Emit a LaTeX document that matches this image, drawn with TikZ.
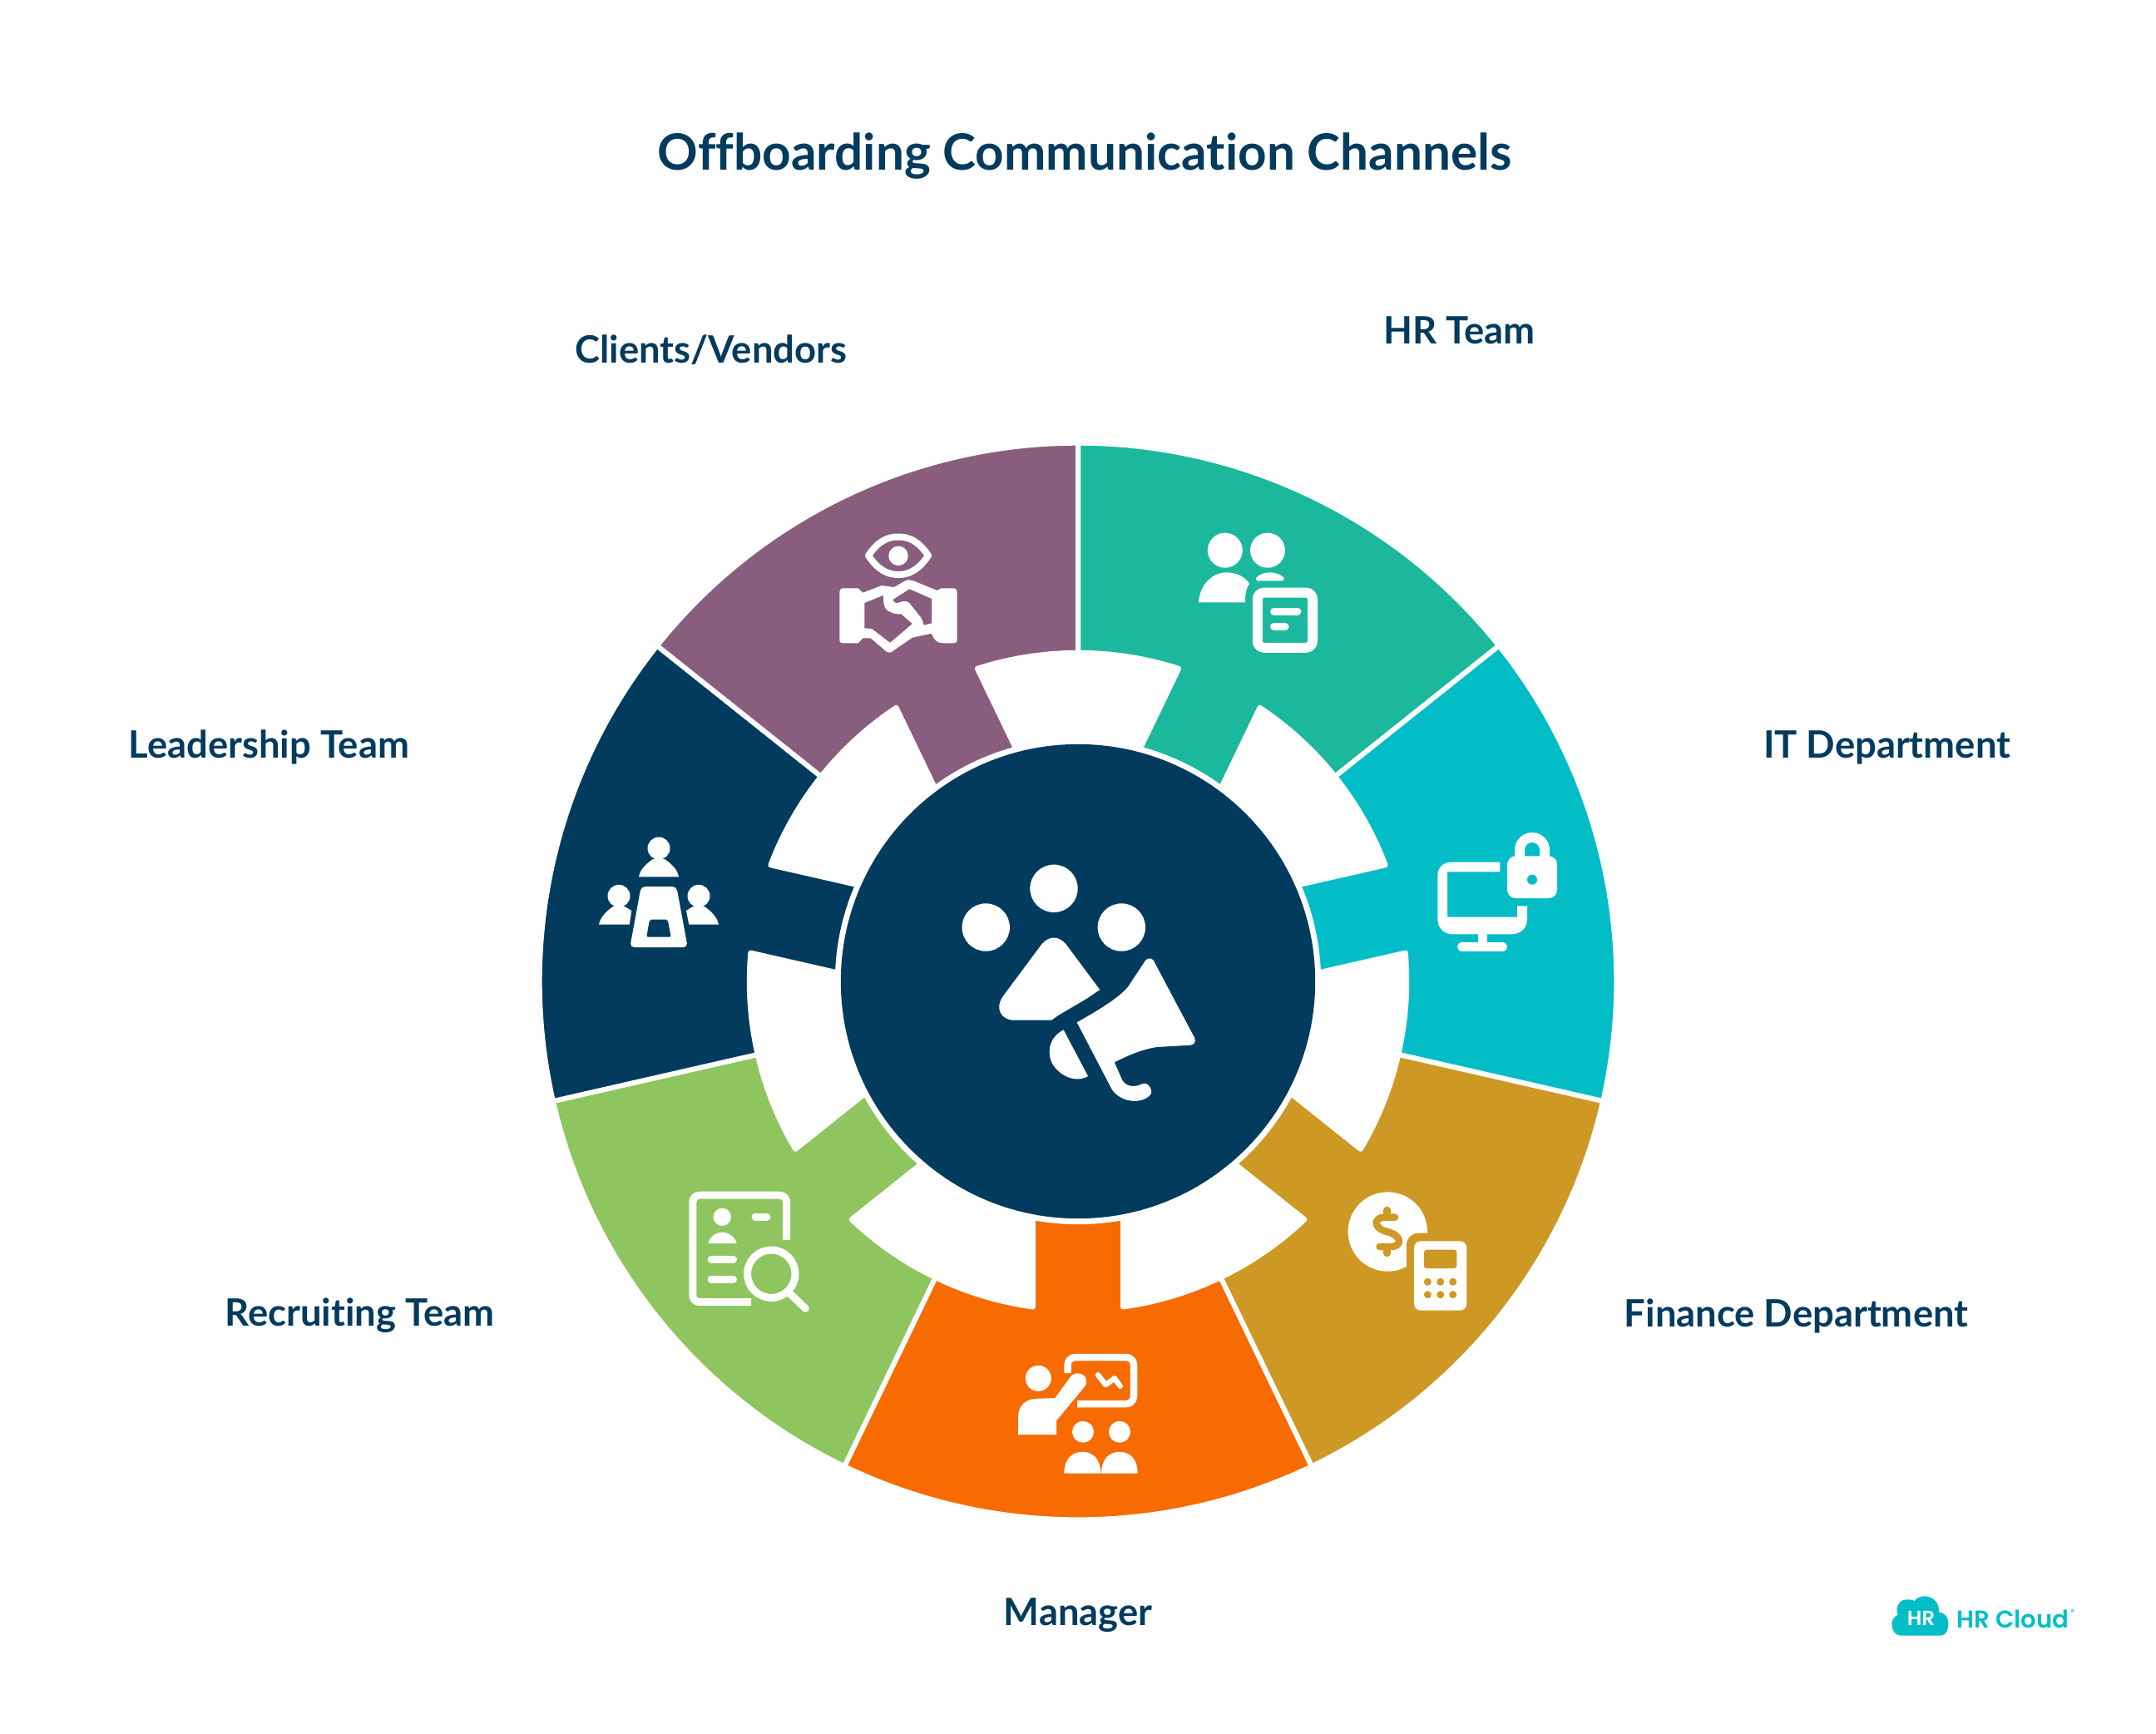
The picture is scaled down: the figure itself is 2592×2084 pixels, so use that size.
\documentclass[tikz,border=0pt]{standalone}
\usepackage{xcolor}
\usepackage{fontspec}
\setmainfont{Lato}[Ligatures=NoCommon]
\newfontfamily\logofont{Poppins SemiBold}
\usepackage{tikz}
\usetikzlibrary{positioning}
\definecolor{navy}{HTML}{023B5E}
\definecolor{hrteal}{HTML}{1CB89E}
\definecolor{itcyan}{HTML}{02BDC6}
\definecolor{financegold}{HTML}{CE9824}
\definecolor{managerorange}{HTML}{F76B00}
\definecolor{recruitgreen}{HTML}{8EC55E}
\definecolor{clientpurple}{HTML}{895D7E}
\definecolor{cloudcyan}{HTML}{00BFC7}
\newcommand{\wedgeblock}[2]{
	\filldraw[wedge,fill=#2,shift={(1296,1180)},rotate=#1]
		(25.714:6.47cm) arc[start angle=25.714,end angle=-25.714,radius=6.47cm]
		-- (-25.714:3.95cm) arc[start angle=-25.714,end angle=-7.858,radius=3.95cm]
		-- (-10.77:2.89cm) arc[start angle=-10.77,end angle=10.77,radius=2.89cm]
		-- (7.858:3.95cm) arc[start angle=7.858,end angle=25.714,radius=3.95cm] -- cycle;
}
\begin{document}
\begin{tikzpicture}[x=0.01cm,y=-0.01cm,on grid,
	every node/.style={inner sep=0,outer sep=0},
	wedge/.style={draw=white,line width=0.06cm,line join=round},
	channel/.style={text=navy,font=\fontsize{12.9}{15}\selectfont\bfseries},
	solid icon/.style={fill=white},
	line icon/.style={draw=white,line width=0.09cm,line cap=round,line join=round}]
	\useasboundingbox (0,0) rectangle (2592,2084);
	\wedgeblock{64.286}{hrteal}
	\wedgeblock{12.857}{itcyan}
	\wedgeblock{-38.571}{financegold}
	\wedgeblock{-90}{managerorange}
	\wedgeblock{-141.429}{recruitgreen}
	\wedgeblock{-192.857}{navy}
	\wedgeblock{115.714}{clientpurple}
	\node (hub) at (1296,1180) [circle,fill=navy,minimum size=5.7cm] {};
	\node (title) [above right=9.92cm and 0.08cm of hub,text=navy,font=\fontsize{17.13}{20}\selectfont\bfseries] {Offboarding Communication Channels};
	\node (hr) [above right=7.82cm and 4.58cm of hub,channel] {HR Team};
	\node (clients) [above left=7.59cm and 4.41cm of hub,channel] {Clients/Vendors};
	\node (it) [above right=2.81cm and 9.72cm of hub,channel] {IT Department};
	\node (leadership) [above left=2.81cm and 9.72cm of hub,channel] {Leadership Team};
	\node (finance) [below right=4.02cm and 8.63cm of hub,channel] {Finance Department};
	\node (recruiting) [below left=4.02cm and 8.63cm of hub,channel] {Recruiting Team};
	\node (manager) [below=7.62cm of hub,channel] {Manager};
	\fill[solid icon] (1267,1068.3) circle[radius=28.7] (1185.2,1115) circle[radius=28.7] (1348.3,1115) circle[radius=28.7];
	\fill[solid icon] (1252.6,1135) .. controls (1262,1125) and (1272,1125) .. (1281.3,1135) -- (1322.2,1190) -- (1306,1201) -- (1272,1221) -- (1264,1226.7) -- (1220,1226.7) .. controls (1203,1226.7) and (1195,1212) .. (1206.7,1196.7) -- cycle;
	\fill[solid icon] (1377,1155) .. controls (1380,1151) and (1386,1151) .. (1388.4,1158) -- (1436.3,1248.3) .. controls (1438,1253) and (1435,1256.7) .. (1430.5,1256.7) -- (1390.4,1259) .. controls (1372,1262) and (1356,1269) .. (1339.8,1277.3) -- (1348.3,1296.7) .. controls (1351,1305) and (1362,1309) .. (1373,1303.3) .. controls (1381,1300) and (1387,1312) .. (1382.7,1316.7) .. controls (1372,1328) and (1348,1326) .. (1336.8,1310) -- (1294.7,1229.3) .. controls (1320,1215) and (1345,1200) .. (1356,1186.7) -- cycle;
	\fill[solid icon] (1278.6,1238.3) -- (1308,1294) .. controls (1290,1304) and (1270,1290) .. (1264,1276.7) .. controls (1258,1260) and (1264,1246) .. (1278.6,1238.3) -- cycle;
	\fill[solid icon] (1472.8,661.7) circle[radius=21] (1524,661.7) circle[radius=21];
	\fill[solid icon] (1441,724.3) .. controls (1442,705) and (1456,688.3) .. (1474.5,688.3) .. controls (1487,688.3) and (1497,694) .. (1502,701.7) .. controls (1498,708) and (1497,714) .. (1497,724.3) -- cycle;
	\fill[solid icon] (1510,695) .. controls (1518,686) and (1535,686) .. (1543.8,695) .. controls (1544,698) and (1543,698.3) .. (1541,698.3) -- (1512,698.3) .. controls (1510,698.3) and (1510,697) .. (1510,695) -- cycle;
	\draw[line icon,line width=0.12cm,rounded corners=0.08cm] (1511.8,712.5) rectangle (1578,778.8);
	\draw[line icon] (1531.5,735) -- (1560,735) (1531.5,753.3) -- (1545,753.3);
	\draw[line icon,line width=0.08cm] (1044,668) .. controls (1056,650) and (1068,645.5) .. (1080,645.5) .. controls (1092,645.5) and (1104,650) .. (1116,668) .. controls (1104,686) and (1092,691) .. (1080,691) .. controls (1068,691) and (1056,686) .. (1044,668) -- cycle;
	\fill[solid icon] (1080,668.3) circle[radius=11.7];
	\fill[solid icon] (1009.3,712) .. controls (1009.3,709) and (1011,707.3) .. (1013,707.3) -- (1031.7,707.3) -- (1037.3,712.7) -- (1060,704) -- (1075,706) -- (1088.3,698.3) .. controls (1091,697) and (1095,697) .. (1098,698.3) -- (1126.7,710) -- (1131.7,707.3) -- (1146.7,707.3) .. controls (1149,707.3) and (1150.7,709) .. (1150.7,712) -- (1150.7,770) .. controls (1150.7,772) and (1149,773.3) .. (1146.7,773.3) -- (1133.3,773.3) .. controls (1127,773.3) and (1123,770) .. (1120,761.7) -- (1096.7,766.7) -- (1075,781.7) .. controls (1071,786) and (1067,786) .. (1061.7,780) -- (1046.7,767.3) -- (1037.3,767.3) -- (1031.7,773.3) -- (1013,773.3) .. controls (1011,773.3) and (1009.3,772) .. (1009.3,770) -- cycle;
	\fill[clientpurple] (1039.3,725) -- (1061.7,716) -- (1062.3,725) .. controls (1063,731) and (1066,734) .. (1068.3,735) .. controls (1074,738) and (1079,739) .. (1083.3,738.3) -- (1096.7,750) -- (1070,772.7) -- (1048.3,756) -- (1039.3,755.3) -- cycle;
	\fill[clientpurple] (1074,720.7) -- (1093.3,708.3) -- (1120,720) -- (1120,749.3) -- (1110.7,751.7) .. controls (1110,748) and (1109,745) .. (1106.7,741.7) -- (1093.3,725) .. controls (1091,723) and (1089,722.7) .. (1087.3,722.7) .. controls (1083,723) and (1081,725) .. (1078.3,725) .. controls (1076,725) and (1074,724) .. (1074,720.7) -- cycle;
	\fill[solid icon] (1803.3,1036.7) -- (1745,1036.7) .. controls (1735,1036.7) and (1728.3,1043) .. (1728.3,1053) -- (1728.3,1105) .. controls (1728.3,1116) and (1736,1123.3) .. (1747,1123.3) -- (1817,1123.3) .. controls (1828,1123.3) and (1836,1116) .. (1836,1105) -- (1836,1089.3) -- (1824,1089.3) -- (1824,1102.7) -- (1740,1102.7) -- (1740,1048.3) -- (1803.3,1048.3) -- cycle;
	\fill[solid icon] (1776.7,1123) rectangle (1788.3,1134);
	\draw[line icon,line width=0.116cm] (1758,1138.5) -- (1806,1138.5);
	\fill[solid icon,rounded corners=0.1cm] (1812,1029.3) rectangle (1872,1080);
	\draw[line icon,line width=0.12cm,line cap=butt] (1827,1032) -- (1827,1022) arc[start angle=180,end angle=0,radius=0.15cm] -- (1857,1032);
	\fill[itcyan] (1842,1057.7) circle[radius=6];
	\fill[solid icon] (1668.3,1481) circle[radius=47.7];
	\fill[financegold,rounded corners=0.14cm] (1691,1482.7) rectangle (1750,1540);
	\draw[line icon,draw=financegold,line width=0.085cm] (1677,1463.7) -- (1664,1463.7) .. controls (1652,1463.7) and (1650,1477) .. (1668,1481) .. controls (1686,1486) and (1686,1499) .. (1672,1499) -- (1658.5,1499);
	\draw[line icon,draw=financegold,line width=0.085cm] (1667.7,1455) -- (1667.7,1460) (1667.7,1503) -- (1667.7,1507);
	\fill[solid icon,rounded corners=0.08cm] (1700,1492.3) rectangle (1763.3,1575.7);
	\fill[financegold,rounded corners=0.03cm] (1712,1502.7) rectangle (1751.3,1525);
	\fill[financegold] (1716.3,1541.3) circle[radius=4.5] (1731.7,1541.3) circle[radius=4.5] (1746.7,1541.3) circle[radius=4.5] (1716.3,1556.7) circle[radius=4.5] (1731.7,1556.7) circle[radius=4.5] (1746.7,1556.7) circle[radius=4.5];
	\fill[solid icon] (1248.3,1657.3) circle[radius=15.5];
	\fill[solid icon] (1224,1725) -- (1224,1703) .. controls (1224,1690) and (1234,1681.7) .. (1246.7,1681.7) -- (1268.3,1681) -- (1287.3,1655) .. controls (1293,1647) and (1311,1652) .. (1305,1666) -- (1270,1708.3) -- (1270,1725) -- cycle;
	\draw[line icon,line cap=butt,line width=0.085cm,rounded corners=0.09cm] (1283.6,1651) -- (1283.6,1632) -- (1363,1632) -- (1363,1688) -- (1295,1688);
	\draw[line icon,line width=0.065cm] (1320,1653.3) -- (1329.3,1665) -- (1340,1657.3) -- (1346.7,1666.7);
	\fill[solid icon] (1302,1721.7) circle[radius=13] (1346,1721.7) circle[radius=13];
	\fill[solid icon] (1279.3,1771.7) .. controls (1279.3,1755) and (1288,1745.7) .. (1301.3,1745.7) .. controls (1314.6,1745.7) and (1323.3,1755) .. (1323.3,1771.7) -- cycle;
	\fill[solid icon] (1324,1771.7) .. controls (1324,1755) and (1333,1745.7) .. (1346,1745.7) .. controls (1359,1745.7) and (1367.7,1755) .. (1367.7,1771.7) -- cycle;
	\draw[line icon,line cap=butt,rounded corners=0.08cm] (945.5,1491) -- (945.5,1437.2) -- (832.8,1437.2) -- (832.8,1565.5) -- (903,1565.5);
	\fill[solid icon] (868.3,1463.3) circle[radius=10.7];
	\fill[solid icon] (851,1495) .. controls (854,1486) and (861,1481.7) .. (868.3,1481.7) .. controls (875,1481.7) and (883,1486) .. (885.7,1495) -- cycle;
	\draw[line icon] (908,1463.3) -- (922,1463.3) (855,1514.3) -- (881.5,1514.3) (855,1538.3) -- (881.5,1538.3);
	\draw[line icon] (927.3,1531.7) circle[radius=28.7] (950,1555.7) -- (968.3,1573.3);
	\fill[solid icon] (792,1020) circle[radius=13.5] (744,1077.3) circle[radius=13.5] (840,1077.3) circle[radius=13.5];
	\fill[solid icon] (768,1054.3) .. controls (770,1044) and (778,1038) .. (785,1033) -- (799,1033) .. controls (806,1038) and (814,1044) .. (816,1054.3) -- cycle;
	\fill[solid icon] (720,1111.7) .. controls (722,1102) and (730,1095) .. (737,1090) -- (751,1090) -- (759.3,1095) -- (756.7,1111.7) -- cycle;
	\fill[solid icon] (864,1111.7) .. controls (862,1102) and (854,1095) .. (847,1090) -- (833,1090) -- (825,1095) -- (828.3,1111.7) -- cycle;
	\fill[solid icon,rounded corners=0.05cm] (770.7,1066) -- (813.3,1066) -- (826.7,1139) -- (757.3,1139) -- cycle;
	\fill[navy,rounded corners=0.02cm] (781,1105.7) -- (802.7,1105.7) -- (806.7,1126.7) -- (777.3,1126.7) -- cycle;
	\fill[cloudcyan] (2285,1966.7) .. controls (2278,1966) and (2274.3,1960) .. (2274.3,1953) .. controls (2274.3,1948) and (2277,1944) .. (2281.7,1941.7) .. controls (2278,1932) and (2284,1923.3) .. (2291.7,1923.3) .. controls (2295,1923) and (2299,1923.5) .. (2301.7,1925) .. controls (2304,1921) and (2309,1919.3) .. (2314,1919.3) .. controls (2324,1919.3) and (2332,1928) .. (2331,1938.3) .. controls (2338,1939) and (2342.3,1945) .. (2342.3,1951) .. controls (2342.3,1960) and (2340,1966) .. (2333.3,1966.7) -- cycle;
	\node (cloudmark) at (2309.5,1946) [text=white,font=\fontsize{7}{8}\selectfont\logofont] {HR};
	\node (cloudname) at (2420,1946.5) [text=cloudcyan,font=\fontsize{8.3}{10}\selectfont\logofont] {HR Cloud};
	\node (cloudreg) at (2491.7,1938) [text=cloudcyan,font=\fontsize{2.5}{3}\selectfont\logofont] {®};
\end{tikzpicture}
\end{document}
